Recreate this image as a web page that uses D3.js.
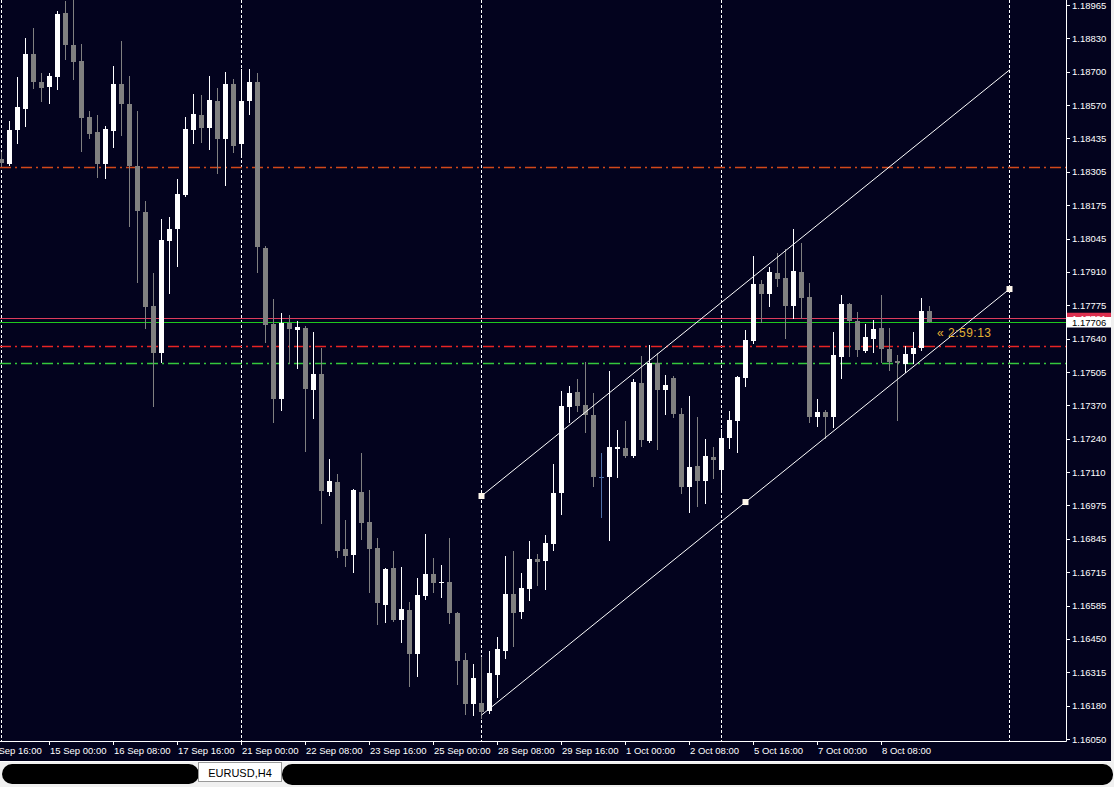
<!DOCTYPE html>
<html><head><meta charset="utf-8">
<script src="https://cdn.jsdelivr.net/npm/d3@7"></script>
<style>html,body{margin:0;padding:0;background:#f0f0f0;overflow:hidden}svg{display:block}</style>
</head><body><svg id="c" width="1114" height="787"></svg>
<script>
// ---- EURUSD H4 candles, bar 0 = Mon 14 Sep 00:00 ----
const openP=[1.18353,1.18334,1.18469,1.18552,1.18770,1.18659,1.18639,1.18679,1.18933,1.18806,
1.18743,1.18520,1.18461,1.18334,1.18465,1.18651,1.18572,1.18326,1.18143,1.17770,
1.17583,1.18028,1.18075,1.18210,1.18469,1.18528,1.18477,1.18584,1.18433,1.18651,
1.18413,1.18584,1.18659,1.18000,1.17698,1.17400,1.17702,1.17674,1.17682,1.17436,
1.17500,1.17031,1.17071,1.16805,1.16781,1.17031,1.16912,1.16809,1.16582,1.16729,
1.16523,1.16562,1.16388,1.16618,1.16705,1.16670,1.16674,1.16550,1.16364,1.16189,
1.16193,1.16161,1.16304,1.16399,1.16626,1.16554,1.16646,1.16765,1.16757,1.16824,
1.17027,1.17368,1.17428,1.17376,1.17337,1.17090,1.17090,1.17202,1.17206,1.17174,
1.17464,1.17233,1.17543,1.17436,1.17484,1.17341,1.17051,1.17134,1.17075,1.17170,
1.17118,1.17245,1.17313,1.17484,1.17631,1.17857,1.17817,1.17901,1.17881,1.17770,
1.17905,1.17805,1.17329,1.17349,1.17329,1.17567,1.17778,1.17710,1.17591,1.17639,
1.17682,1.17599,1.17551,1.17539,1.17579,1.17603,1.17750];
const highP=[1.18381,1.18504,1.18679,1.18834,1.18874,1.18695,1.18695,1.18941,1.18981,1.18985,
1.18810,1.18544,1.18528,1.18484,1.18723,1.18822,1.18683,1.18544,1.18187,1.17901,
1.18115,1.18123,1.18274,1.18520,1.18612,1.18608,1.18683,1.18635,1.18699,1.18671,
1.18711,1.18711,1.18695,1.18008,1.17797,1.17742,1.17734,1.17710,1.17690,1.17666,
1.17603,1.17162,1.17102,1.16920,1.17043,1.17186,1.17039,1.16848,1.16729,1.16797,
1.16733,1.16594,1.16689,1.16864,1.16769,1.16741,1.16848,1.16554,1.16392,1.16348,
1.16376,1.16399,1.16455,1.16777,1.16797,1.16709,1.16836,1.16785,1.16860,1.17142,
1.17432,1.17452,1.17480,1.17547,1.17424,1.17186,1.17511,1.17277,1.17313,1.17480,
1.17571,1.17615,1.17583,1.17496,1.17492,1.17365,1.17412,1.17329,1.17241,1.17210,
1.17281,1.17353,1.17492,1.17674,1.17968,1.17873,1.17924,1.17980,1.17996,1.18075,
1.18020,1.17861,1.17400,1.17357,1.17666,1.17813,1.17782,1.17746,1.17698,1.17714,
1.17813,1.17682,1.17575,1.17611,1.17666,1.17801,1.17770];
const lowP=[1.18326,1.18330,1.18417,1.18484,1.18635,1.18584,1.18576,1.18631,1.18751,1.18671,
1.18385,1.18437,1.18282,1.18278,1.18401,1.18449,1.18087,1.17865,1.17682,1.17372,
1.17547,1.17821,1.17928,1.18206,1.18417,1.18421,1.18393,1.18298,1.18250,1.18381,
1.18369,1.18532,1.17905,1.17627,1.17309,1.17357,1.17543,1.17523,1.17194,1.17325,
1.16908,1.17019,1.16773,1.16737,1.16713,1.16844,1.16634,1.16507,1.16515,1.16519,
1.16435,1.16260,1.16300,1.16606,1.16634,1.16614,1.16511,1.16268,1.16149,1.16145,
1.16133,1.16153,1.16217,1.16372,1.16419,1.16531,1.16602,1.16662,1.16646,1.16801,
1.16944,1.17309,1.17353,1.17269,1.17055,1.16932,1.16840,1.17090,1.17170,1.17170,
1.17214,1.17229,1.17202,1.17341,1.17329,1.17027,1.16952,1.16975,1.16987,1.17087,
1.17039,1.17206,1.17190,1.17452,1.17623,1.17706,1.17770,1.17849,1.17643,1.17722,
1.17722,1.17309,1.17293,1.17245,1.17289,1.17484,1.17571,1.17571,1.17587,1.17587,
1.17547,1.17515,1.17317,1.17507,1.17543,1.17595,1.17706];
const closeP=[1.18338,1.18469,1.18560,1.18770,1.18659,1.18635,1.18683,1.18929,1.18806,1.18739,
1.18516,1.18453,1.18334,1.18473,1.18651,1.18572,1.18326,1.18147,1.17766,1.17583,
1.18032,1.18075,1.18214,1.18473,1.18532,1.18477,1.18588,1.18433,1.18651,1.18405,
1.18584,1.18659,1.18004,1.17694,1.17400,1.17702,1.17678,1.17686,1.17440,1.17500,
1.17035,1.17075,1.16797,1.16777,1.17039,1.16908,1.16805,1.16590,1.16725,1.16523,
1.16566,1.16388,1.16622,1.16705,1.16670,1.16674,1.16550,1.16360,1.16189,1.16292,
1.16157,1.16312,1.16407,1.16626,1.16550,1.16650,1.16765,1.16753,1.16828,1.17027,
1.17372,1.17424,1.17372,1.17337,1.17090,1.17090,1.17210,1.17210,1.17174,1.17468,
1.17237,1.17543,1.17436,1.17456,1.17341,1.17051,1.17130,1.17075,1.17174,1.17158,
1.17245,1.17317,1.17488,1.17635,1.17857,1.17817,1.17905,1.17877,1.17770,1.17909,
1.17801,1.17329,1.17349,1.17329,1.17575,1.17778,1.17710,1.17595,1.17647,1.17678,
1.17599,1.17547,1.17543,1.17579,1.17603,1.17750,1.17706];

const timeTickLabels=["11 Sep 16:00","15 Sep 00:00","16 Sep 08:00","17 Sep 16:00","21 Sep 00:00",
"22 Sep 08:00","23 Sep 16:00","25 Sep 00:00","28 Sep 08:00","29 Sep 16:00","1 Oct 00:00",
"2 Oct 08:00","5 Oct 16:00","7 Oct 00:00","8 Oct 08:00"];
const timeTickBars=[-2,6,14,22,30,38,46,54,62,70,78,86,94,102,110];
const priceTickLabels=["1.18965","1.18830","1.18700","1.18570","1.18435","1.18305","1.18175",
"1.18045","1.17910","1.17775","1.17640","1.17505","1.17370","1.17240","1.17110","1.16975",
"1.16845","1.16715","1.16585","1.16450","1.16315","1.16180","1.16050"];
const separatorBars=[0,30,60,90,126];
const levelPrices=[1.18322,1.17611,1.17543];
const levelColors=["#d2481a","#e82424","#34c83c"];
const bidPrice=1.17706, askPrice=1.17721;
const channelBars=[60,93,126];
const channelPrices=[1.17015,1.16991,1.17837];
const countdownText="\u00ab 2:59:13";
const symbolTab="EURUSD,H4";

// ---- layout ----
const W=1114,H=787, plotR=1066, plotB=741;
const svg=d3.select("#c");
const bg="#03031e";
svg.append("rect").attr("width",W).attr("height",H).attr("fill","#f0f0f0");
svg.append("rect").attr("width",1111).attr("height",761).attr("fill",bg);

const x=d3.scaleLinear().domain([0,133]).range([1,1065]);
const y=d3.scaleLinear().domain([1.16050,1.18965]).range([739,5]);

svg.append("defs").append("clipPath").attr("id","pc").append("rect")
  .attr("width",plotR).attr("height",plotB);
const g=svg.append("g").attr("clip-path","url(#pc)");

// separators
g.selectAll("line.sep").data(separatorBars).join("line").attr("class","sep")
  .attr("x1",d=>Math.round(x(d))+0.5).attr("x2",d=>Math.round(x(d))+0.5)
  .attr("y1",0).attr("y2",plotB)
  .style("stroke","#ffffff").attr("stroke-dasharray","3,2");

// level lines (dash-dot)
const levels=levelPrices.map((p,i)=>({p:p,c:levelColors[i]}));
g.selectAll("line.lvl").data(levels).join("line").attr("class","lvl")
  .attr("x1",0).attr("x2",plotR)
  .attr("y1",d=>Math.round(y(d.p))+0.5).attr("y2",d=>Math.round(y(d.p))+0.5)
  .style("stroke",d=>d.c).attr("stroke-width",1.5).attr("stroke-dasharray","11,4,2,4");

// bid / ask lines
g.append("line").attr("x1",0).attr("x2",plotR)
  .attr("y1",Math.round(y(askPrice))+0.5).attr("y2",Math.round(y(askPrice))+0.5)
  .style("stroke","#dc3c5c");
g.append("line").attr("x1",0).attr("x2",plotR)
  .attr("y1",Math.round(y(bidPrice))+0.5).attr("y2",Math.round(y(bidPrice))+0.5)
  .style("stroke","#1ec81e");

// candles
const idx=d3.range(openP.length);
const col=i=>closeP[i]>openP[i]?"#ffffff":(closeP[i]<openP[i]?"#808080":"#5072aa");
const cg=g.append("g").attr("shape-rendering","crispEdges");
cg.selectAll("rect.wick").data(idx).join("rect").attr("class","wick")
  .attr("x",i=>Math.round(x(i))).attr("width",1)
  .attr("y",i=>Math.round(y(highP[i])))
  .attr("height",i=>Math.round(y(lowP[i]))-Math.round(y(highP[i]))+1)
  .attr("fill",col);
cg.selectAll("rect.body").data(idx).join("rect").attr("class","body")
  .attr("x",i=>Math.round(x(i))-2).attr("width",5)
  .attr("y",i=>Math.round(y(Math.max(openP[i],closeP[i]))))
  .attr("height",i=>Math.max(1,Math.round(y(Math.min(openP[i],closeP[i])))-Math.round(y(Math.max(openP[i],closeP[i])))))
  .attr("fill",col);

// channel
const slope=(channelPrices[2]-channelPrices[1])/(channelBars[2]-channelBars[1]);
const b0=channelBars[0], b1=channelBars[2];
const mainAt=b=>channelPrices[1]+slope*(b-channelBars[1]);
const parAt=b=>channelPrices[0]+slope*(b-channelBars[0]);
g.append("line").attr("x1",x(b0)+0.5).attr("y1",y(mainAt(b0))).attr("x2",x(b1)+0.5).attr("y2",y(mainAt(b1)))
  .style("stroke","#ffffff").attr("stroke-width",1);
g.append("line").attr("x1",x(b0)+0.5).attr("y1",y(parAt(b0))).attr("x2",x(b1)+0.5).attr("y2",y(parAt(b1)))
  .style("stroke","#ffffff").attr("stroke-width",1);
g.selectAll("rect.anc").data(d3.range(3)).join("rect").attr("class","anc")
  .attr("x",i=>x(channelBars[i])+0.5-3).attr("y",i=>y(channelPrices[i])-3)
  .attr("width",6).attr("height",6).attr("fill","#fff8ec");

// countdown
svg.append("text").attr("x",x(openP.length)).attr("y",y(bidPrice)+15)
  .attr("fill","#e2b234").attr("font-family","Liberation Sans, Arial, sans-serif")
  .attr("font-size",12).attr("letter-spacing",0.5).text(countdownText);

// axes lines
svg.append("line").attr("x1",plotR+0.5).attr("x2",plotR+0.5).attr("y1",0).attr("y2",plotB+0.5)
  .style("stroke","#ffffff");
svg.append("line").attr("x1",0).attr("x2",plotR+0.5).attr("y1",plotB+0.5).attr("y2",plotB+0.5)
  .style("stroke","#ffffff");

// price axis
const font="Liberation Sans, Arial, sans-serif";
const pStep=(1.18965-1.16050)/(priceTickLabels.length-1);
const pVals=priceTickLabels.map((t,i)=>1.18965-i*pStep);
svg.selectAll("line.pt").data(pVals).join("line").attr("class","pt")
  .attr("x1",plotR+1).attr("x2",plotR+4)
  .attr("y1",d=>Math.round(y(d))+0.5).attr("y2",d=>Math.round(y(d))+0.5)
  .style("stroke","#ffffff");
svg.selectAll("text.pt").data(pVals).join("text").attr("class","pt")
  .attr("x",plotR+6).attr("y",d=>y(d)+3.5)
  .attr("fill","#ffffff").attr("font-family",font).attr("font-size",9.5)
  .text((d,i)=>priceTickLabels[i]);

// ask / bid price boxes
svg.append("rect").attr("x",plotR+1).attr("y",y(askPrice)-5.5).attr("width",44).attr("height",11).attr("fill","#dc3050");
svg.append("text").attr("x",plotR+6).attr("y",y(askPrice)+3.5).attr("fill","#ffffff")
  .attr("font-family",font).attr("font-size",9.5).text(askPrice.toFixed(5));
svg.append("rect").attr("x",plotR+1).attr("y",y(bidPrice)-5).attr("width",44).attr("height",10.5).attr("fill","#ffffff");
svg.append("text").attr("x",plotR+6).attr("y",y(bidPrice)+3.8).attr("fill","#000000")
  .attr("font-family",font).attr("font-size",9.5).text(bidPrice.toFixed(5));

// time axis
svg.selectAll("line.tt").data(timeTickBars).join("line").attr("class","tt")
  .attr("x1",d=>Math.round(x(d))+0.5).attr("x2",d=>Math.round(x(d))+0.5)
  .attr("y1",plotB).attr("y2",plotB+4).style("stroke","#ffffff");
svg.selectAll("text.tt").data(timeTickBars).join("text").attr("class","tt")
  .attr("x",d=>Math.round(x(d))+1).attr("y",754)
  .attr("fill","#ffffff").attr("font-family",font).attr("font-size",9.5)
  .text((d,i)=>timeTickLabels[i]);

// bottom tab bar
svg.append("line").attr("x1",0).attr("x2",1111).attr("y1",761.5).attr("y2",761.5).style("stroke","#ffffff");
svg.append("rect").attr("x",2).attr("y",764).attr("width",197).attr("height",20).attr("rx",10).attr("fill","#000000");
svg.append("rect").attr("x",282).attr("y",764).attr("width",831).attr("height",21).attr("rx",10).attr("fill","#000000");
svg.append("rect").attr("x",198.5).attr("y",762.5).attr("width",83).attr("height",19).attr("fill","#ffffff").style("stroke","#9a9a9a");
svg.append("text").attr("x",240).attr("y",777).attr("text-anchor","middle").attr("fill","#000000")
  .attr("font-family",font).attr("font-size",11).text(symbolTab);
</script></body></html>
